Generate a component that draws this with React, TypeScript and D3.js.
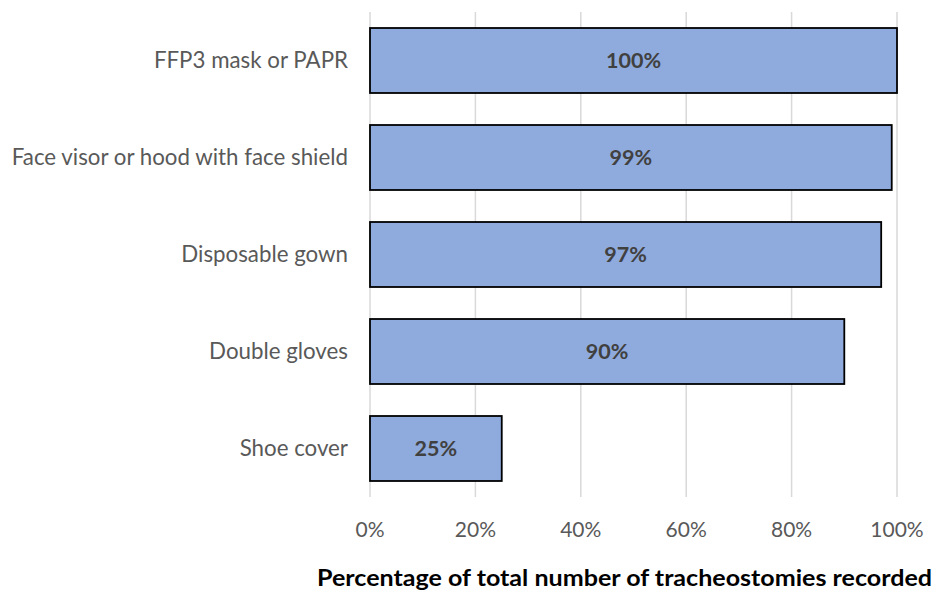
import React from "react";
import * as d3 from "d3";

const categories = [
  "FFP3 mask or PAPR",
  "Face visor or hood with face shield",
  "Disposable gown",
  "Double gloves",
  "Shoe cover",
];
const values = [100, 99, 97, 90, 25];
const ticks = [0, 20, 40, 60, 80, 100];
const axisTitle = "Percentage of total number of tracheostomies recorded";

export default function App() {
  const W = 936, H = 592;
  const x = d3.scaleLinear().domain([0, 100]).range([370, 897]);
  const y = d3.scaleBand().domain(categories).range([12, 497]).paddingInner(0.33).paddingOuter(0.165);
  const font = "Lato, 'Open Sans', sans-serif";
  return (
    <svg width={W} height={H} style={{ position: "absolute", left: 0, top: 0, background: "#fff" }}>
      {ticks.map((t) => (
        <line key={t} x1={x(t)} x2={x(t)} y1={12} y2={497} stroke="#d9d9d9" strokeWidth={1.5} />
      ))}
      {categories.map((c, i) => (
        <g key={c}>
          <rect x={x(0)} y={y(c)} width={x(values[i]) - x(0)} height={y.bandwidth()} fill="#8faadc" stroke="#000" strokeWidth={1.8} />
          <text x={(x(0) + x(values[i])) / 2} y={y(c)! + y.bandwidth() / 2} dy="0.35em" textAnchor="middle" fontFamily={font} fontWeight="bold" fontSize={21.5} fill="#404040">
            {values[i]}%
          </text>
          <text x={348} y={y(c)! + y.bandwidth() / 2} dy="0.35em" textAnchor="end" fontFamily={font} fontSize={22.3} fill="#595959">
            {c}
          </text>
        </g>
      ))}
      {ticks.map((t) => (
        <text key={t} x={x(t)} y={530} dy="0.35em" textAnchor="middle" fontFamily={font} fontSize={21} fill="#595959">
          {t}%
        </text>
      ))}
      <text x={624.5} y={578} dy="0.35em" textAnchor="middle" fontFamily={font} fontWeight="bold" fontSize={23} textLength={615} lengthAdjust="spacingAndGlyphs" fill="#000">
        {axisTitle}
      </text>
    </svg>
  );
}
